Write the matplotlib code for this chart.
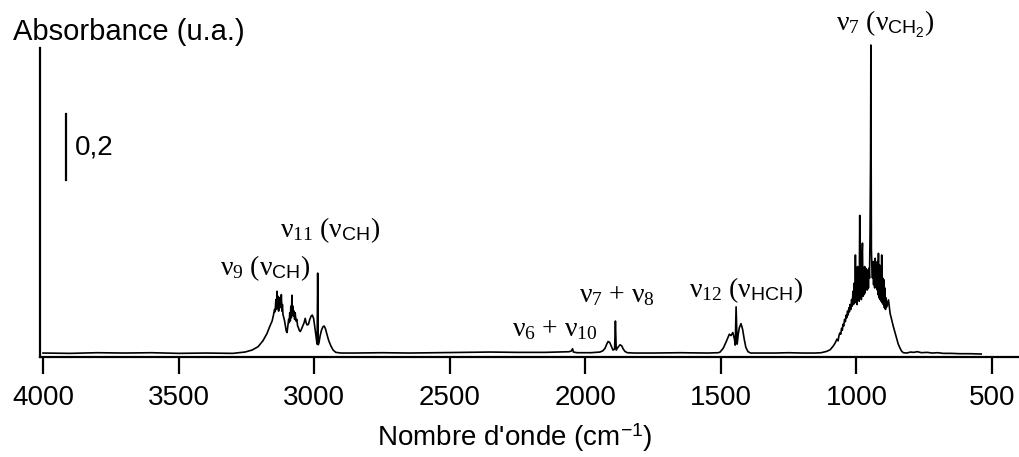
import numpy as np
import matplotlib.pyplot as plt

plt.rcParams['font.family'] = 'Liberation Sans'
plt.rcParams['mathtext.fontset'] = 'custom'
plt.rcParams['mathtext.rm'] = 'Liberation Serif'
plt.rcParams['mathtext.it'] = 'Liberation Serif'
plt.rcParams['mathtext.sf'] = 'Liberation Sans'

# spectrum, split by region (wavenumber in cm-1, absorbance)
base_hi_wn = [4000, 3900, 3800, 3700, 3600, 3500, 3400]
base_hi_ab = [0.003, 0.002, 0.004, 0.003, 0.004, 0.002, 0.003]

ch_wn = [3300, 3255, 3229, 3207, 3189, 3174, 3163, 3155, 3150, 3146, 3144, 3141,
         3139, 3137, 3135, 3133, 3131, 3129, 3127, 3125, 3123, 3121, 3119, 3117,
         3115, 3112, 3109, 3106, 3103, 3100, 3097, 3094, 3092, 3090, 3088, 3086,
         3084, 3082, 3080, 3078, 3076, 3074, 3072, 3070, 3067, 3064, 3061, 3058,
         3055, 3051, 3047, 3042, 3037, 3033, 3030, 3026, 3021, 3016, 3011, 3007,
         3002, 2998, 2994, 2991, 2989, 2987, 2985, 2982, 2978, 2973, 2968, 2963,
         2958, 2953, 2946, 2938, 2930, 2920, 2900]
ch_ab = [0.002, 0.006, 0.012, 0.022, 0.040, 0.062, 0.085, 0.100, 0.118, 0.135, 0.128, 0.165,
         0.135, 0.190, 0.140, 0.175, 0.130, 0.170, 0.140, 0.172, 0.145, 0.180, 0.130, 0.150,
         0.120, 0.110, 0.100, 0.085, 0.070, 0.065, 0.085, 0.105, 0.095, 0.125, 0.100, 0.145,
         0.110, 0.178, 0.118, 0.145, 0.115, 0.130, 0.105, 0.125, 0.100, 0.105, 0.085, 0.080,
         0.072, 0.068, 0.075, 0.085, 0.095, 0.108, 0.096, 0.088, 0.090, 0.105, 0.115, 0.118,
         0.108, 0.085, 0.060, 0.040, 0.030, 0.245, 0.028, 0.035, 0.055, 0.072, 0.082, 0.085,
         0.076, 0.060, 0.040, 0.024, 0.012, 0.005, 0.003]

mid_wn = [2850, 2750, 2650, 2550, 2450, 2350, 2250, 2150, 2100, 2060, 2052, 2047,
          2044, 2030, 1980, 1950]
mid_ab = [0.003, 0.004, 0.003, 0.004, 0.005, 0.006, 0.005, 0.005, 0.006, 0.007, 0.009, 0.016,
          0.006, 0.004, 0.004, 0.006]

comb_wn = [1946, 1935, 1927, 1921, 1916, 1910, 1903, 1898, 1892, 1889, 1886, 1880,
           1872, 1866, 1860, 1854, 1845, 1820, 1750, 1650, 1550, 1510]
comb_ab = [0.006, 0.010, 0.018, 0.030, 0.038, 0.035, 0.022, 0.012, 0.015, 0.100, 0.012, 0.020,
           0.028, 0.025, 0.015, 0.008, 0.004, 0.003, 0.003, 0.004, 0.003, 0.004]

v12_wn = [1503, 1491, 1478, 1469, 1463, 1456, 1450, 1447, 1444, 1440, 1436, 1432,
          1426, 1420, 1414, 1408, 1400, 1390, 1300, 1250, 1200, 1153]
v12_ab = [0.006, 0.018, 0.042, 0.060, 0.056, 0.065, 0.045, 0.027, 0.143, 0.030, 0.060, 0.080,
          0.092, 0.075, 0.045, 0.020, 0.007, 0.003, 0.003, 0.004, 0.003, 0.003]

v7_wn = [1130, 1110, 1097, 1085, 1079, 1072, 1068, 1064, 1061, 1058, 1055, 1052,
         1050, 1047, 1044, 1041, 1038, 1036, 1033, 1031, 1028, 1026, 1024, 1021,
         1018, 1016, 1013, 1011, 1008, 1006, 1004, 1002, 1000, 998, 996, 994,
         992, 990, 988, 986, 984, 982, 980, 978, 976, 974, 972, 970,
         968, 966, 964, 962, 960, 958, 956, 954, 952, 950, 948, 947,
         946, 945, 943, 941, 939, 937, 935, 933, 931, 929, 927, 925,
         923, 921, 919, 917, 915, 913, 911, 909, 907, 905, 903, 901,
         899, 897, 895, 893, 891, 888, 882, 876, 870, 864, 858, 852,
         846, 839, 833, 827, 815, 800, 790, 775, 760, 740, 720, 700,
         680, 650, 620, 580, 540]
v7_ab = [0.004, 0.008, 0.013, 0.025, 0.033, 0.045, 0.040, 0.058, 0.064, 0.060, 0.078, 0.072,
         0.090, 0.085, 0.105, 0.098, 0.118, 0.110, 0.130, 0.118, 0.140, 0.128, 0.150, 0.135,
         0.165, 0.145, 0.190, 0.150, 0.215, 0.155, 0.300, 0.160, 0.240, 0.150, 0.265, 0.165,
         0.230, 0.160, 0.420, 0.170, 0.260, 0.165, 0.290, 0.336, 0.175, 0.250, 0.180, 0.265,
         0.185, 0.260, 0.195, 0.240, 0.194, 0.255, 0.200, 0.260, 0.230, 0.366, 0.600, 0.936,
         0.620, 0.315, 0.260, 0.230, 0.280, 0.210, 0.262, 0.200, 0.290, 0.205, 0.250, 0.195,
         0.280, 0.180, 0.305, 0.170, 0.270, 0.165, 0.250, 0.160, 0.300, 0.155, 0.230, 0.150,
         0.225, 0.140, 0.200, 0.135, 0.170, 0.143, 0.164, 0.123, 0.103, 0.083, 0.065, 0.048,
         0.030, 0.017, 0.008, 0.004, 0.003, 0.006, 0.005, 0.007, 0.004, 0.005, 0.003, 0.004,
         0.002, 0.002, 0.001, 0.001, 0.000]

wn = np.concatenate([base_hi_wn, ch_wn, mid_wn, comb_wn, v12_wn, v7_wn])
ab = np.concatenate([base_hi_ab, ch_ab, mid_ab, comb_ab, v12_ab, v7_ab])

# band labels: text, wavenumber, absorbance of label centre
band_labels = [r'$\nu_{7}$ ($\nu_{\mathsf{CH_2}}$)',
               r'$\nu_{11}$ ($\nu_{\mathsf{CH}}$)',
               r'$\nu_{9}$ ($\nu_{\mathsf{CH}}$)',
               r'$\nu_{6}$ + $\nu_{10}$',
               r'$\nu_{7}$ + $\nu_{8}$',
               r'$\nu_{12}$ ($\nu_{\mathsf{HCH}}$)']
label_wn = [895, 2942, 3181, 2112, 1883, 1407]
label_ab = [0.997, 0.376, 0.260, 0.073, 0.176, 0.194]

fig = plt.figure(figsize=(10.2, 4.57), dpi=100)
ax = fig.add_axes([40/1020, 100/457, 980/1020, 309/457])
ax.plot(wn, ab, color='black', lw=1.2, clip_on=False)
ax.set_xlim(4011, 397)
ax.set_ylim(-0.009, 0.927)

for spine in ['top', 'right']:
    ax.spines[spine].set_visible(False)
ax.spines['left'].set_linewidth(1.6)
ax.spines['bottom'].set_linewidth(1.6)
ax.set_yticks([])
ax.set_xticks([4000, 3500, 3000, 2500, 2000, 1500, 1000, 500])
ax.tick_params(axis='x', direction='out', length=12, width=1.6, labelsize=20, pad=8)

# 0,2 scale bar
ax.plot([3915, 3915], [0.527, 0.727], color='black', lw=1.6)
ax.text(3882, 0.627, '0,2', fontsize=20, ha='left', va='center')

for s, x, y in zip(band_labels, label_wn, label_ab):
    ax.text(x, y, s, fontsize=20, ha='center', va='center', family='Liberation Serif',
            clip_on=False)

fig.text(13/1020, 1 - 32/457, 'Absorbance (u.a.)', fontsize=21, ha='left', va='center')
fig.text(515/1020, 1 - 438/457, r"Nombre d'onde (cm$^{\mathsf{-1}}$)", fontsize=20,
         ha='center', va='center')

fig.savefig('out.png', dpi=100)
